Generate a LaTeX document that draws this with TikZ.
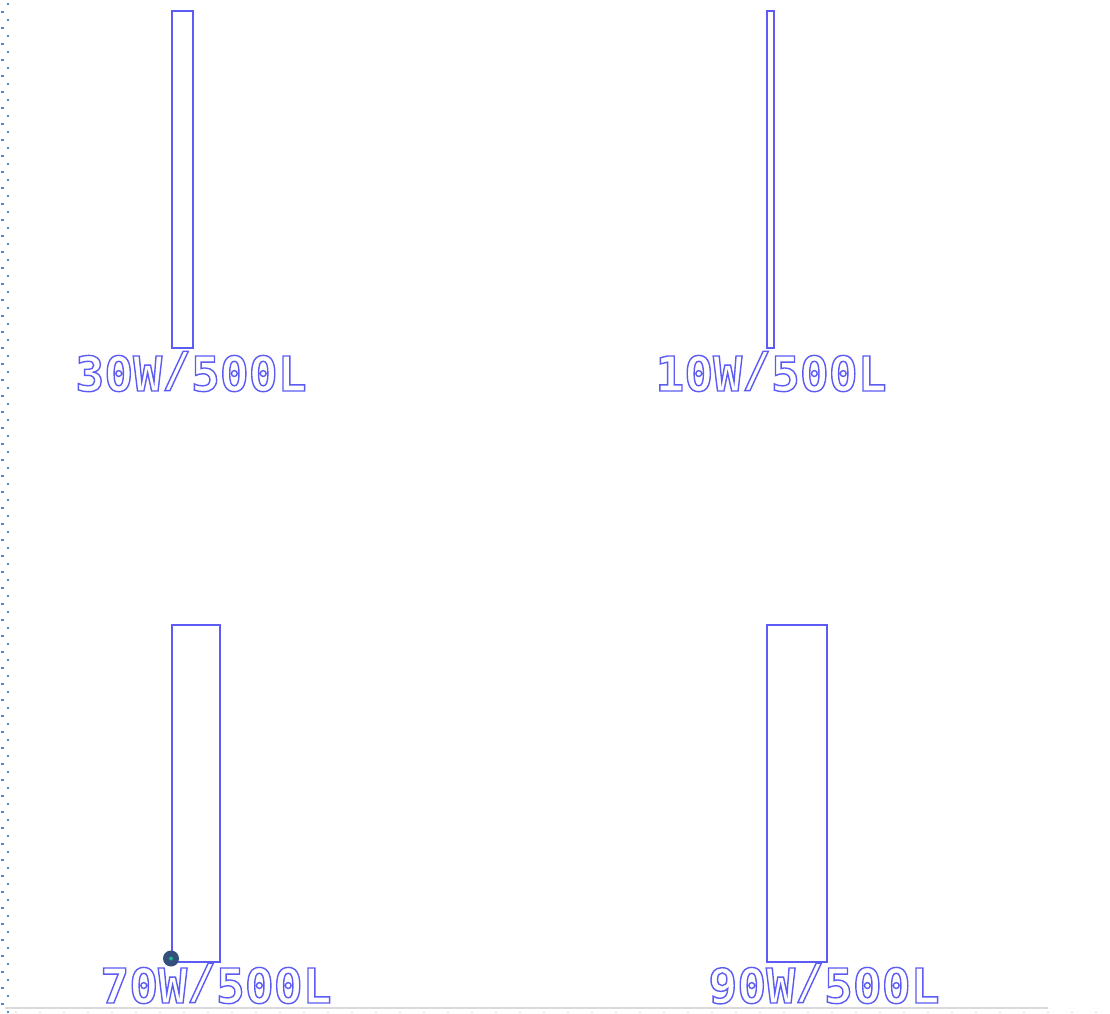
\documentclass[tikz,border=0pt]{standalone}
\usepackage{fontspec}
\newfontfamily\pixfont{DejaVu Sans Mono}
\definecolor{barblue}{RGB}{92,92,245}
\definecolor{dotblue}{RGB}{70,140,220}
\definecolor{pindark}{RGB}{52,80,122}
\definecolor{pingreen}{RGB}{29,179,143}
\definecolor{axisgray}{RGB}{218,218,218}
\newcommand{\myslash}{\raisebox{0.1em}{/}}
\tikzset{
  bar/.style={draw=barblue, line width=1.5pt, fill=none, inner sep=0pt, anchor=north west},
  lbl/.style={inner sep=0pt, anchor=base, text=barblue,
    font=\pixfont\bfseries\fontsize{48}{48}\selectfont,
    execute at begin node={\special{pdf:literal direct 1 Tr 1.4 w}},
    execute at end node={\special{pdf:literal direct 0 Tr}}},
}
\begin{document}
\begin{tikzpicture}[x=1pt,y=-1pt]
\useasboundingbox (0,0) rectangle (1110,1013);
\fill[white] (0,0) rectangle (1110,1013);
% left dotted edge
\draw[dotblue, line width=2.2pt, dash pattern=on 2.2pt off 13.8pt] (8,3) -- (8,1013);
\draw[dotblue, line width=2.2pt, dash pattern=on 2.2pt off 13.8pt] (2.5,11) -- (2.5,1013);
% bottom axis
\draw[axisgray, line width=2pt] (5,1008) -- (1048,1008);
\draw[axisgray, line width=1.2pt, dash pattern=on 1.5pt off 22.5pt] (15,1012.5) -- (1110,1012.5);
% bars
\node[bar, minimum width=21pt, minimum height=337pt] (b1) at (171,10) {};
\node[bar, minimum width=7pt, minimum height=337pt] (b2) at (766,10) {};
\node[bar, minimum width=48pt, minimum height=337pt] (b3) at (171,624) {};
\node[bar, minimum width=60pt, minimum height=337pt] (b4) at (766,624) {};
% labels
\node[lbl] (l1) at (191,391) {30W\myslash500L};
\node[lbl] (l2) at (771,391) {10W\myslash500L};
\node[lbl] (l3) at (216,1003) {70W\myslash500L};
\node[lbl] (l4) at (824,1003) {90W\myslash500L};
% marker
\node[circle, fill=pindark, minimum size=16pt, inner sep=0pt] (pin) at ([yshift=4pt]b3.south west) {};
\node[circle, fill=pingreen, minimum size=4pt, inner sep=0pt] (pinc) at (pin.center) {};
\end{tikzpicture}
\end{document}
